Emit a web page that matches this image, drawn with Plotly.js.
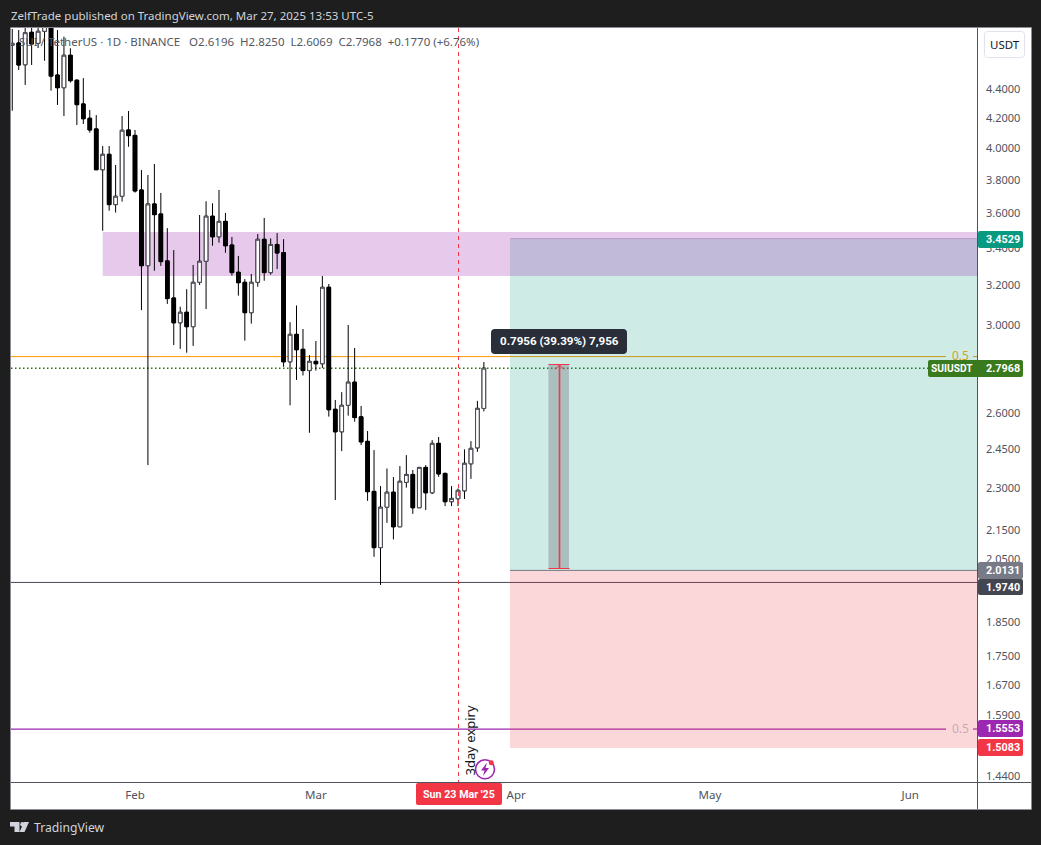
<!DOCTYPE html>
<html>
<head>
<meta charset="utf-8">
<script src="https://cdn.plot.ly/plotly-3.0.1.min.js"></script>
<style>
  html, body { margin: 0; padding: 0; background: #1e1e1e; overflow: hidden; }
</style>
</head>
<body>
<div id="myDiv" style="width:1041px;height:845px;"></div>
<script>
// SUI / TetherUS daily candles
var dates = [
  '2025-01-13','2025-01-14','2025-01-15','2025-01-16','2025-01-17','2025-01-18','2025-01-19','2025-01-20','2025-01-21','2025-01-22',
  '2025-01-23','2025-01-24','2025-01-25','2025-01-26','2025-01-27','2025-01-28','2025-01-29','2025-01-30','2025-01-31','2025-02-01',
  '2025-02-02','2025-02-03','2025-02-04','2025-02-05','2025-02-06','2025-02-07','2025-02-08','2025-02-09','2025-02-10','2025-02-11',
  '2025-02-12','2025-02-13','2025-02-14','2025-02-15','2025-02-16','2025-02-17','2025-02-18','2025-02-19','2025-02-20','2025-02-21',
  '2025-02-22','2025-02-23','2025-02-24','2025-02-25','2025-02-26','2025-02-27','2025-02-28','2025-03-01','2025-03-02','2025-03-03',
  '2025-03-04','2025-03-05','2025-03-06','2025-03-07','2025-03-08','2025-03-09','2025-03-10','2025-03-11','2025-03-12','2025-03-13',
  '2025-03-14','2025-03-15','2025-03-16','2025-03-17','2025-03-18','2025-03-19','2025-03-20','2025-03-21','2025-03-22','2025-03-23',
  '2025-03-24','2025-03-25','2025-03-26','2025-03-27'
];
var opens = [
  4.728,4.746,4.581,4.829,4.743,4.837,4.92,4.505,4.413,4.652,
  4.467,4.298,4.199,4.127,3.862,3.960,3.649,3.699,4.120,4.084,
  3.737,3.304,3.653,3.594,3.330,3.135,3.011,3.063,2.992,3.216,
  3.328,3.581,3.463,3.551,3.417,3.269,3.216,3.061,3.216,3.449,
  3.267,3.420,3.375,2.826,2.955,2.884,2.786,2.828,2.817,3.190,
  2.616,2.522,2.633,2.734,2.584,2.483,2.289,2.089,2.231,2.286,
  2.161,2.323,2.353,2.229,2.380,2.284,2.475,2.357,2.251,2.262,
  2.291,2.394,2.457,2.6196
];
var highs = [
  4.855,4.847,4.93,4.95,4.95,4.98,4.98,4.847,4.795,4.705,
  4.474,4.482,4.256,4.221,4.014,4.014,3.892,4.214,4.249,4.120,
  3.860,3.829,3.898,3.719,3.512,3.389,3.091,3.180,3.308,3.588,
  3.669,3.657,3.737,3.600,3.462,3.357,3.233,3.260,3.479,3.571,
  3.454,3.484,3.450,3.014,3.097,2.981,2.857,2.923,3.249,3.207,
  2.656,2.690,3.000,2.890,2.630,2.525,2.448,2.309,2.376,2.343,
  2.385,2.428,2.370,2.382,2.389,2.488,2.501,2.360,2.309,2.300,
  2.451,2.484,2.652,2.8250
];
var lows = [
  4.251,4.542,4.433,4.579,4.707,4.611,4.392,4.291,4.214,4.450,
  4.153,4.160,4.102,3.862,3.497,3.613,3.602,3.667,4.009,3.721,
  3.074,2.389,3.277,3.303,3.105,2.904,2.886,2.868,2.900,3.202,
  3.079,3.413,3.430,3.374,3.251,3.147,2.925,3.007,3.193,3.224,
  3.256,3.286,2.803,2.633,2.744,2.764,2.518,2.786,2.798,2.585,
  2.257,2.444,2.589,2.564,2.468,2.254,2.058,1.966,2.175,2.117,
  2.161,2.303,2.207,2.229,2.221,2.279,2.344,2.235,2.235,2.235,
  2.261,2.336,2.441,2.6069
];
var closes = [
  4.743,4.579,4.826,4.738,4.837,4.90,4.497,4.413,4.652,4.464,
  4.293,4.196,4.120,3.862,3.960,3.649,3.699,4.118,4.082,3.731,
  3.304,3.653,3.590,3.326,3.132,3.011,3.063,2.992,3.216,3.328,
  3.581,3.463,3.551,3.413,3.267,3.214,3.061,3.216,3.449,3.267,
  3.420,3.373,2.826,2.955,2.882,2.786,2.828,2.817,3.190,2.614,
  2.522,2.633,2.734,2.581,2.481,2.288,2.089,2.231,2.286,2.161,
  2.327,2.353,2.229,2.380,2.284,2.475,2.355,2.251,2.263,2.293,
  2.396,2.455,2.620,2.7968
];

var priceTicks = [4.4,4.2,4.0,3.8,3.6,3.4,3.2,3.0,2.6,2.45,2.3,2.15,2.05,1.85,1.75,1.67,1.59,1.44];
var priceTickText = ['4.4000','4.2000','4.0000','3.8000','3.6000','3.4000','3.2000','3.0000','2.6000','2.4500','2.3000','2.1500','2.0500','1.8500','1.7500','1.6700','1.5900','1.4400'];
var monthTicks = ['2025-02-01','2025-03-01','2025-04-01','2025-05-01','2025-06-01'];
var monthText = ['Feb','Mar','Apr','May','Jun'];

var FONT = '"Noto Sans", sans-serif';
var TAGFONT = 'Roboto, sans-serif';

// plot box in window pixels
var L = 11, R = 977, T = 28, B = 782;
function px(x){ return (x - L) / (R - L); }
function py(y){ return (B - y) / (B - T); }

function rectPx(x0, y0, x1, y1, fill, line){
  return { type:'rect', xref:'paper', yref:'paper', x0:px(x0), y0:py(y0), x1:px(x1), y1:py(y1),
           fillcolor:fill, line:{ width: line ? 1 : 0, color: line || fill }, layer:'below' };
}
function linePx(x0, y0, x1, y1, color, dash, width){
  return { type:'line', xref:'paper', yref:'paper', x0:px(x0), y0:py(y0), x1:px(x1), y1:py(y1),
           line:{ width:width || 1, color:color, dash:dash || 'solid' }, layer:'above' };
}
// polygon from window pixels
function polyPx(points, fill){
  var s = '';
  for (var i = 0; i < points.length; i++) {
    s += (i === 0 ? 'M' : 'L') + px(points[i][0]) + ',' + py(points[i][1]);
  }
  return { type:'path', xref:'paper', yref:'paper', path:s + 'Z', fillcolor:fill, line:{ width:0 }, layer:'above' };
}
function roundPx(x0, y0, x1, y1, r, fill, lineColor){
  function p(x, y){ return px(x) + ',' + py(y); }
  var s = 'M' + p(x0 + r, y0) + ' L' + p(x1 - r, y0) + ' Q' + p(x1, y0) + ' ' + p(x1, y0 + r) +
          ' L' + p(x1, y1 - r) + ' Q' + p(x1, y1) + ' ' + p(x1 - r, y1) +
          ' L' + p(x0 + r, y1) + ' Q' + p(x0, y1) + ' ' + p(x0, y1 - r) +
          ' L' + p(x0, y0 + r) + ' Q' + p(x0, y0) + ' ' + p(x0 + r, y0) + ' Z';
  return { type:'path', xref:'paper', yref:'paper', path:s, fillcolor:fill,
           line:{ width: lineColor ? 1 : 0, color: lineColor || fill }, layer:'above' };
}
function circlePx(cx, cy, r, fill, line){
  return { type:'circle', xref:'paper', yref:'paper', x0:px(cx-r), y0:py(cy-r), x1:px(cx+r), y1:py(cy+r),
           fillcolor:fill, line:{ width: line ? 1.6 : 0, color: line || fill }, layer:'above' };
}
// price level running from window pixel x0 to x1
function level(price, x0, x1, color, dash, width){
  return { type:'line', xref:'paper', yref:'y', x0:px(x0), x1:px(x1), y0:price, y1:price,
           line:{ width:width || 1, color:color, dash:dash || 'solid' }, layer:'below' };
}
function zone(d0, d1, p0, p1, fill){
  return { type:'rect', xref:'x', yref:'y', x0:d0, x1:d1, y0:p0, y1:p1, fillcolor:fill, line:{ width:0 }, layer:'below' };
}

var xEnd = '2025-06-11 08:00';
var shapes = [
  rectPx(11, 28, 1031, 809, '#ffffff'),
  zone('2025-03-31 01:00', xEnd, 3.4529, 2.0131, 'rgba(8,153,129,0.2)'),
  zone('2025-03-31 01:00', xEnd, 2.0131, 1.5083, 'rgba(242,54,69,0.2)'),
  zone('2025-01-27 00:00', xEnd, 3.49, 3.249, 'rgba(156,39,176,0.25)'),
  level(3.4529, 510, 977, 'rgba(120,123,134,0.35)'),
  level(2.0131, 510, 977, '#787b86'),
  level(2.85, 11, 946, '#ff9800'),
  level(2.85, 973, 977, '#ff9800'),
  level(2.7968, 11, 930, '#1f7a00', '1.5px,2.5px', 1.5),
  level(1.974, 11, 977, '#4a4a55'),
  level(1.5553, 11, 946, '#9c27b0', 'solid', 1.2),
  level(1.5553, 973, 977, '#9c27b0', 'solid', 1.2),
  // cursor
  linePx(458.5, 28, 458.5, 782, '#f23645', '4px,4px'),
  // measure tool
  zone('2025-04-06', '2025-04-09 04:00', 2.0195, 2.815, 'rgba(120,123,134,0.4)'),
  linePx(548.5, 364.5, 569.5, 364.5, '#f23645'),
  linePx(548.5, 568.5, 569.5, 568.5, '#f23645'),
  linePx(559.5, 365, 559.5, 568, '#f23645', 'solid', 1.6),
  linePx(559.5, 365, 555, 369.5, '#f23645'),
  linePx(559.5, 365, 564, 369.5, '#f23645'),
  // frame
  linePx(10.5, 27.5, 1031.5, 27.5, '#8a8d96'),
  linePx(10.5, 27.5, 10.5, 809.5, '#8a8d96'),
  linePx(1031.5, 27.5, 1031.5, 809.5, '#8a8d96'),
  linePx(10.5, 809.5, 1031.5, 809.5, '#8a8d96'),
  linePx(977.5, 28, 977.5, 809, '#50535e'),
  linePx(11, 782.5, 1031, 782.5, '#50535e'),
  // USDT button
  roundPx(984.5, 31.5, 1024.5, 57.5, 3, '#ffffff', '#e0e3eb'),
  // expiry icon
  circlePx(485, 769.3, 9.5, '#ffffff', '#9c27b0'),
  polyPx([[487,762.5],[481,770.5],[484.5,770.5],[483,776],[489,768],[485.5,768]], '#9c27b0'),
  circlePx(491.3, 762.7, 2.5, '#f23645'),
  // TradingView mark
  polyPx([[10,822],[19.5,822],[19.5,832],[14.5,832],[14.5,826.5],[10,826.5]], '#d1d4dc'),
  circlePx(22.5, 824.2, 2.2, '#d1d4dc'),
  polyPx([[24,822],[29,822],[24.5,832],[19.5,832]], '#d1d4dc')
];

function note(text, x, y, color, size, opts){
  var a = { text:text, xref:'paper', yref:'paper', x:px(x), y:py(y), showarrow:false,
            xanchor:'center', yanchor:'middle', borderpad:0,
            font:{ family:FONT, size:size, color:color } };
  for (var k in opts) a[k] = opts[k];
  return a;
}

var annotations = [
  note('ZelfTrade published on TradingView.com, Mar 27, 2025 13:53 UTC-5', 10, 15, '#d1d4dc', 11.5, { xanchor:'left' }),
  note('SUI / TetherUS · 1D · BINANCE  &nbsp;O2.6196 &nbsp;H2.8250 &nbsp;L2.6069 &nbsp;C2.7968 &nbsp;+0.1770 (+6.76%)', 18, 41.5, '#555762', 11.5, { xanchor:'left' }),
  note('USDT', 1004.5, 44.5, '#131722', 11.5),
  note('0.5', 960, 355.5, '#d8a020', 12),
  note('0.5', 960, 728.5, '#c9a9b5', 12),
  note('3day expiry', 469.5, 741, '#131722', 13, { textangle:-90 }),
  note('TradingView', 33, 827.5, '#d1d4dc', 12.2, { xanchor:'left' })
];

// label box plus its text, text placed separately so it lines up with the ticks
function tag(text, x0, y0, x1, y1, bg, textX, size, radius){
  shapes.push(roundPx(x0, y0, x1, y1, radius || 2, bg));
  annotations.push(note('<b>' + text + '</b>', textX, (y0 + y1) / 2, '#ffffff', size,
                   { font:{ family:TAGFONT, size:size, color:'#ffffff' } }));
}
tag('3.4529', 978, 231, 1023, 248, '#089981', 1002.5, 10.8);
tag('2.7968', 928, 360, 1023, 377, '#3a7a1e', 1002.5, 10.8);
annotations.push(note('<b>SUIUSDT</b>', 951.5, 368.5, '#ffffff', 10.2, { font:{ family:TAGFONT, size:10.2, color:'#ffffff' } }));
tag('2.0131', 978, 562, 1023, 579, '#787b86', 1002.5, 10.8);
tag('1.9740', 978, 579, 1023, 595, '#434651', 1002.5, 10.8);
tag('1.5553', 978, 720, 1023, 737, '#9c27b0', 1002.5, 10.8);
tag('1.5083', 978, 739, 1023, 756, '#f23645', 1002.5, 10.8);
tag('Sun 23 Mar \'25', 416, 783, 502, 805, '#f23645', 458.5, 10.7);
tag('0.7956 (39.39%) 7,956', 491, 329, 627, 354, '#2a2e39', 559, 11.6, 4);

var bodyTop = [], bodyBottom = [];
for (var i = 0; i < dates.length; i++) {
  bodyTop.push(Math.max(opens[i], closes[i]));
  bodyBottom.push(Math.min(opens[i], closes[i]));
}

// wicks are black on every candle
var wicks = {
  type:'candlestick',
  x:dates, open:opens, high:highs, low:lows, close:closes,
  increasing:{ line:{ color:'#000000', width:1 }, fillcolor:'#ffffff' },
  decreasing:{ line:{ color:'#000000', width:1 }, fillcolor:'#000000' },
  whiskerwidth:0,
  hoverinfo:'skip'
};
// body outline of up candles is grey, so the bodies go again on top without wicks
var bodies = {
  type:'candlestick',
  x:dates, open:opens, high:bodyTop, low:bodyBottom, close:closes,
  increasing:{ line:{ color:'#4a4a55', width:1 }, fillcolor:'#ffffff' },
  decreasing:{ line:{ color:'#000000', width:1 }, fillcolor:'#000000' },
  whiskerwidth:0,
  hoverinfo:'skip'
};

var layout = {
  width:1041,
  height:845,
  margin:{ l:L, r:1041 - R, t:T, b:845 - B, pad:0 },
  paper_bgcolor:'#1e1e1e',
  plot_bgcolor:'rgba(0,0,0,0)',
  showlegend:false,
  boxmode:'overlay',
  boxgap:0.2,
  xaxis:{
    type:'date',
    range:['2025-01-12 19:20', xEnd],
    tickmode:'array', tickvals:monthTicks, ticktext:monthText,
    ticks:'', showgrid:false, zeroline:false, showline:false,
    tickfont:{ family:FONT, size:11.5, color:'#50535e' },
    ticklabelstandoff:4,
    rangeslider:{ visible:false }
  },
  yaxis:{
    type:'log',
    side:'right',
    range:[Math.log10(1.427), Math.log10(4.863)],
    tickmode:'array', tickvals:priceTicks, ticktext:priceTickText,
    ticks:'', showgrid:false, zeroline:false, showline:false,
    tickfont:{ family:FONT, size:11, color:'#50535e' },
    ticklabelstandoff:8
  },
  shapes:shapes,
  annotations:annotations
};

Plotly.newPlot('myDiv', [wicks, bodies], layout, { displayModeBar:false, staticPlot:true });
</script>
</body>
</html>
